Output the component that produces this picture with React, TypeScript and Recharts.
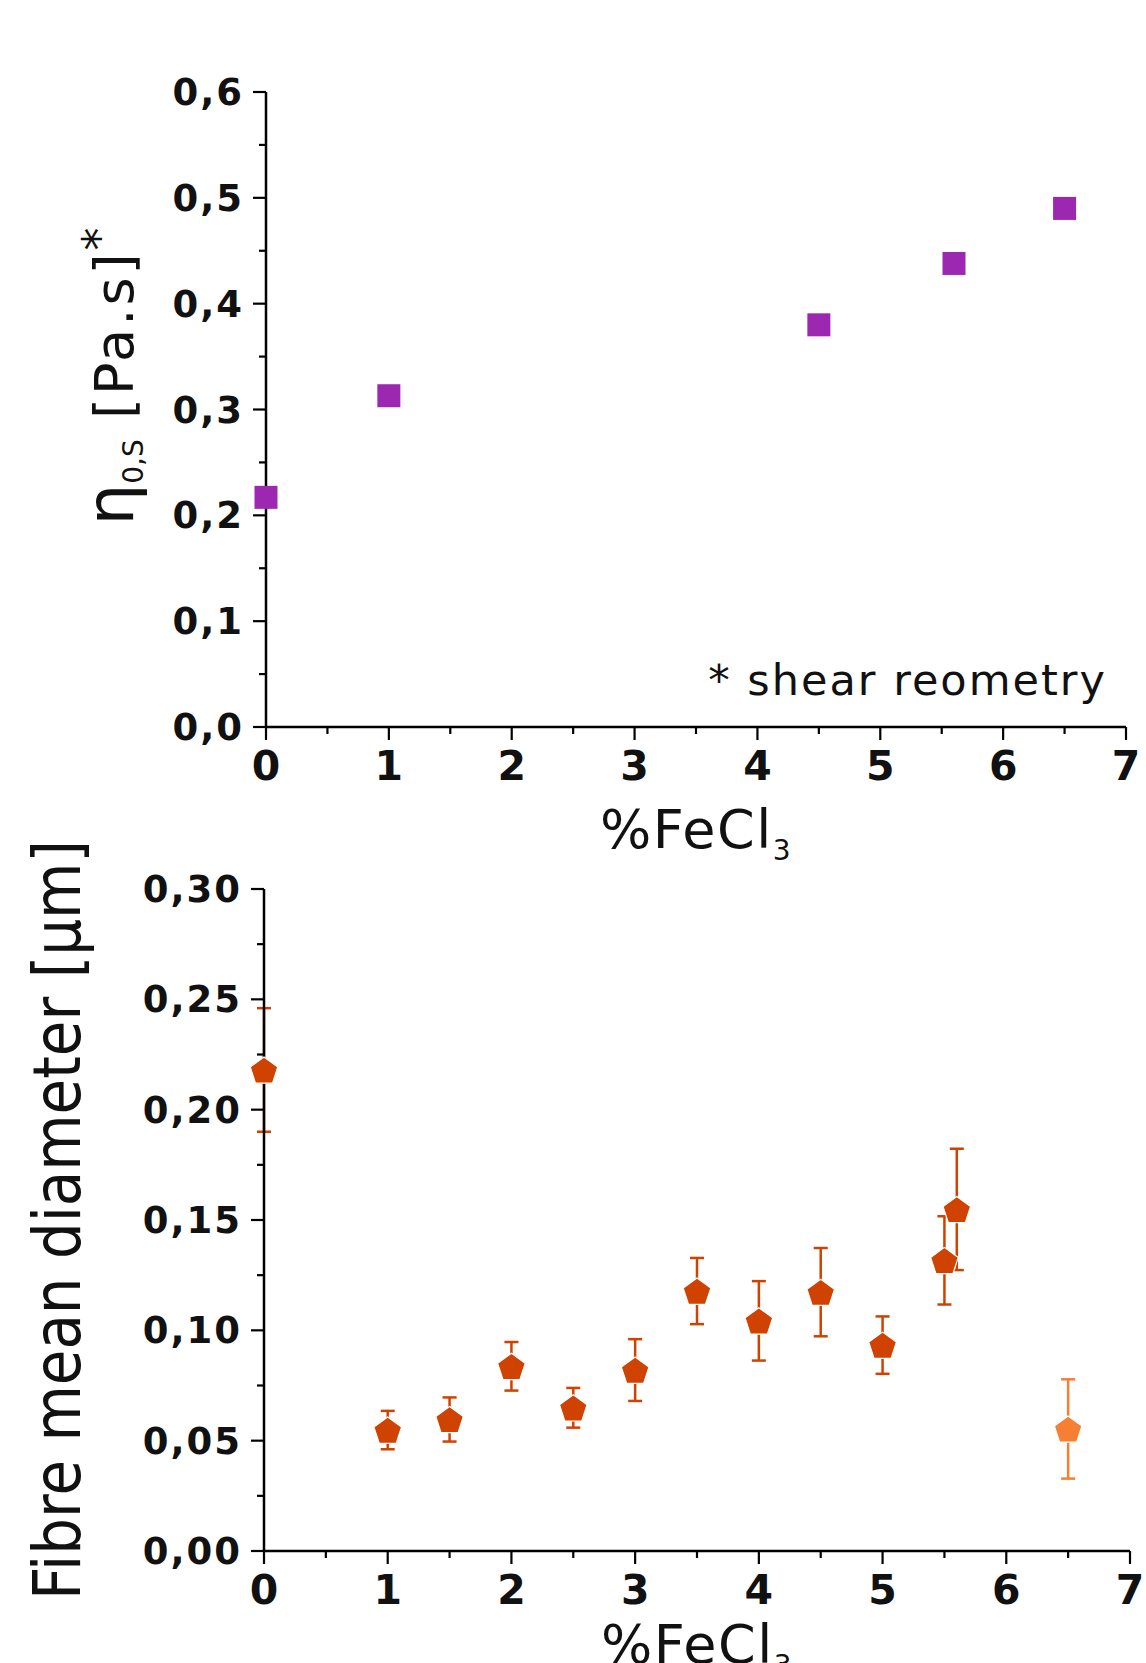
import React from 'react';
import { ScatterChart, Scatter, XAxis, YAxis, ErrorBar, Label, Customized } from 'recharts';

const FONT = "'DejaVu Sans', sans-serif";
const INK = '#111';
const PURPLE = '#9c27b0';
const ORANGE = '#cf4200';
const LIGHT_ORANGE = '#f67f33';

// shared x axis (%FeCl3)
const X_TICKS = [0, 0.5, 1, 1.5, 2, 2.5, 3, 3.5, 4, 4.5, 5, 5.5, 6, 6.5, 7];

// top: zero shear viscosity
const VISC_X = [0, 1, 4.5, 5.6, 6.5];
const VISC_Y = [0.217, 0.313, 0.38, 0.438, 0.49];
const VISC_Y_TICKS = [0, 0.05, 0.1, 0.15, 0.2, 0.25, 0.3, 0.35, 0.4, 0.45, 0.5, 0.55, 0.6];

// bottom: fibre mean diameter
const FIBRE_X = [0, 1, 1.5, 2, 2.5, 3, 3.5, 4, 4.5, 5, 5.5, 5.6];
const FIBRE_Y = [0.218, 0.0548, 0.0596, 0.0837, 0.0649, 0.082, 0.1178, 0.1043, 0.1173, 0.0933, 0.1317, 0.1548];
const FIBRE_ERR = [0.028, 0.0087, 0.01, 0.011, 0.009, 0.014, 0.015, 0.018, 0.02, 0.013, 0.02, 0.0275];
const EXTRA_X = [6.5];
const EXTRA_Y = [0.0553];
const EXTRA_ERR = [0.0225];
const DIAM_Y_TICKS = [0, 0.025, 0.05, 0.075, 0.1, 0.125, 0.15, 0.175, 0.2, 0.225, 0.25, 0.275, 0.3];

const viscData = VISC_X.map((x, i) => ({ x, y: VISC_Y[i] }));
const fibreData = FIBRE_X.map((x, i) => ({ x, y: FIBRE_Y[i], err: FIBRE_ERR[i] }));
const extraData = EXTRA_X.map((x, i) => ({ x, y: EXTRA_Y[i], err: EXTRA_ERR[i] }));

const isMultiple = (v: number, step: number) => Math.abs(v / step - Math.round(v / step)) < 1e-6;

const XTick = (props: any) => {
  const { x, y, payload } = props;
  const major = isMultiple(payload.value, 1);
  return (
    <g>
      <line x1={x} y1={y} x2={x} y2={y + (major ? 13 : 7)} stroke="#000" strokeWidth={2.2} />
      {major && (
        <text x={x} y={y + 53} textAnchor="middle" fontFamily={FONT} fontWeight="bold" fontSize={41} fill={INK}>
          {payload.value}
        </text>
      )}
    </g>
  );
};

const makeYTick = (step: number, digits: number) => (props: any) => {
  const { x, y, payload } = props;
  const major = isMultiple(payload.value, step);
  return (
    <g>
      <line x1={x} y1={y} x2={x - (major ? 13 : 7)} y2={y} stroke="#000" strokeWidth={2.2} />
      {major && (
        <text x={x - 22} y={y} dy={13} textAnchor="end" fontFamily={FONT} fontWeight="bold" fontSize={37} letterSpacing={2} fill={INK}>
          {payload.value.toFixed(digits).replace('.', ',')}
        </text>
      )}
    </g>
  );
};

const XTitle = (offset: number) => (props: any) => {
  const vb = props.viewBox;
  return (
    <text x={vb.x + vb.width / 2} y={vb.y + offset} textAnchor="middle" fontFamily={FONT} fontSize={54} letterSpacing={1.5} fill={INK}>
      %FeCl<tspan fontSize={28} dy={12}>3</tspan>
    </text>
  );
};

const ViscTitle = (props: any) => {
  const vb = props.viewBox;
  const bx = 133;
  const cy = vb.y + vb.height / 2 - 33;
  return (
    <text x={bx} y={cy} transform={`rotate(-90, ${bx}, ${cy})`} textAnchor="middle" fontFamily={FONT} fill={INK} fontSize={54}>
      <tspan fontSize={66}>η</tspan>
      <tspan fontSize={28} dy={10}>0,S</tspan>
      <tspan dy={-10} letterSpacing={3}> [Pa.s]</tspan>
      <tspan dy={-18} fontSize={46}>*</tspan>
    </text>
  );
};

const DiamTitle = (props: any) => {
  const vb = props.viewBox;
  const bx = 80;
  const cy = vb.y + vb.height / 2;
  return (
    <text x={bx} y={cy} transform={`rotate(-90, ${bx}, ${cy})`} textAnchor="middle" fontFamily={FONT}
      fontSize={66} textLength={760} lengthAdjust="spacingAndGlyphs" fill={INK}>
      Fibre mean diameter [µm]
    </text>
  );
};

const Note = () => (
  <text x={1107} y={695} textAnchor="end" fontFamily={FONT} fontSize={43} letterSpacing={2} fill={INK}>
    * shear reometry
  </text>
);

const Square = (props: any) => {
  const { cx, cy } = props;
  return <rect x={cx - 11.5} y={cy - 11.5} width={23} height={23} fill={PURPLE} />;
};

const pentagon = (color: string) => (props: any) => {
  const { cx, cy } = props;
  const r = 14.5;
  const pts = [0, 1, 2, 3, 4]
    .map((k) => {
      const a = -Math.PI / 2 + (k * 2 * Math.PI) / 5;
      return `${cx + r * Math.cos(a)},${cy + 1.5 + r * Math.sin(a)}`;
    })
    .join(' ');
  return <polygon points={pts} fill={color} stroke="#fff" strokeWidth={1.2} />;
};

const axisLine = { stroke: '#000', strokeWidth: 2.5 };

export default function App() {
  return (
    <div style={{ position: 'absolute', left: 0, top: 0, width: 1146, height: 1663, background: '#fff', overflow: 'hidden' }}>
      <div style={{ position: 'absolute', left: 0, top: 0 }}>
        <ScatterChart width={1146} height={870} margin={{ top: 92, right: 20, bottom: 3, left: 0 }}>
          <XAxis type="number" dataKey="x" domain={[0, 7]} ticks={X_TICKS} interval={0} height={140}
            tick={XTick} tickLine={false} tickSize={0} tickMargin={0} axisLine={axisLine}>
            <Label content={XTitle(121)} />
          </XAxis>
          <YAxis type="number" dataKey="y" domain={[0, 0.6]} ticks={VISC_Y_TICKS} interval={0} width={266}
            tick={makeYTick(0.1, 1)} tickLine={false} tickSize={0} tickMargin={0} axisLine={axisLine}>
            <Label content={ViscTitle} />
          </YAxis>
          <Scatter data={viscData} shape={Square} isAnimationActive={false} />
          <Customized component={Note} />
        </ScatterChart>
      </div>
      <div style={{ position: 'absolute', left: 0, top: 820 }}>
        <ScatterChart width={1146} height={843} margin={{ top: 69, right: 16, bottom: 5, left: 0 }}>
          <XAxis type="number" dataKey="x" domain={[0, 7]} ticks={X_TICKS} interval={0} height={107}
            tick={XTick} tickLine={false} tickSize={0} tickMargin={0} axisLine={axisLine}>
            <Label content={XTitle(112)} />
          </XAxis>
          <YAxis type="number" dataKey="y" domain={[0, 0.3]} ticks={DIAM_Y_TICKS} interval={0} width={264}
            tick={makeYTick(0.05, 2)} tickLine={false} tickSize={0} tickMargin={0} axisLine={axisLine}>
            <Label content={DiamTitle} />
          </YAxis>
          <Scatter data={fibreData} shape={pentagon(ORANGE)} isAnimationActive={false}>
            <ErrorBar dataKey="err" direction="y" width={7} stroke={ORANGE} strokeWidth={2.5} />
          </Scatter>
          <Scatter data={extraData} shape={pentagon(LIGHT_ORANGE)} isAnimationActive={false}>
            <ErrorBar dataKey="err" direction="y" width={7} stroke={LIGHT_ORANGE} strokeWidth={2.5} />
          </Scatter>
        </ScatterChart>
      </div>
    </div>
  );
}
